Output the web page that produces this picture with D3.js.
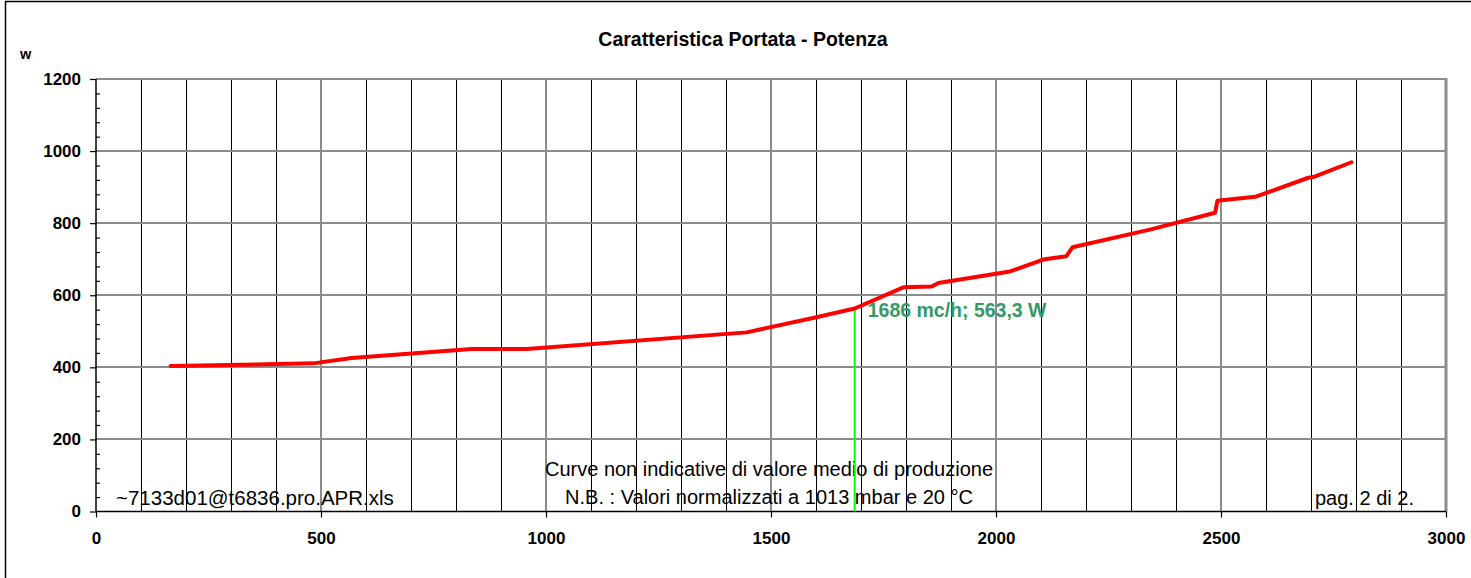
<!DOCTYPE html>
<html>
<head>
<meta charset="utf-8">
<script src="https://cdn.jsdelivr.net/npm/d3@7/dist/d3.min.js"></script>
<style>
	body { margin: 0; background: #ffffff; }
	svg { display: block; font-family: Arial, "Liberation Sans", sans-serif; }
</style>
</head>
<body>
<div id="chart"></div>
<script>

// portata (mc/h) and potenza (W)
var portata = [166, 483, 568, 835, 957, 1446, 1601, 1686, 1794, 1857, 1872, 2031, 2105, 2156, 2170, 2342, 2487, 2492, 2576, 2694, 2705, 2790];
var potenza = [404, 411, 426, 451, 451, 497, 539, 563.3, 622, 624, 634, 666, 699, 708, 733, 782, 829, 862, 873, 926, 928, 969];

var xTicks = [0, 500, 1000, 1500, 2000, 2500, 3000];
var yTicks = [0, 200, 400, 600, 800, 1000, 1200];

var opPoint = [1686, 563.3];
var opLabel = "1686 mc/h; 563,3 W";

var title = "Caratteristica Portata - Potenza";
var fileName = "~7133d01@t6836.pro.APR.xls";
var noteLines = ["Curve non indicative di valore medio di produzione", "N.B. : Valori normalizzati a 1013 mbar e 20 \u00B0C"];
var pageText = "pag. 2 di 2.";

var width = 1471, height = 578;
var plotL = 96, plotR = 1446, plotT = 79, plotB = 511.5;

var svg = d3.select("#chart").append("svg")
	.attr("width", width)
	.attr("height", height);

// outer frame (right and bottom fall outside the picture)
svg.append("rect")
	.attr("x", 5.5).attr("y", 1.5)
	.attr("width", width + 10).attr("height", height + 10)
	.attr("fill", "none")
	.attr("stroke", "#000000")
	.attr("stroke-width", 1.5);

var x = d3.scaleLinear().domain([0, 3000]).range([plotL, plotR]);
var y = d3.scaleLinear().domain([0, 1200]).range([plotB, plotT]);

// vertical grid, every 100, thin black minor, grey at 500
var grid = svg.append("g");
var vLines = d3.range(100, 3000, 100);
for (var i = 0; i < vLines.length; i++)
{
	var v = vLines[i];
	var major = v % 500 == 0;
	grid.append("line")
		.attr("x1", Math.round(x(v)) + (major ? 0 : 0.5))
		.attr("x2", Math.round(x(v)) + (major ? 0 : 0.5))
		.attr("y1", plotT)
		.attr("y2", plotB)
		.attr("stroke", major ? "#8c8c8c" : "#000000")
		.attr("stroke-width", major ? 2 : 1);
}

// horizontal grid
for (var i = 1; i < yTicks.length; i++)
{
	grid.append("line")
		.attr("x1", plotL)
		.attr("x2", plotR)
		.attr("y1", Math.round(y(yTicks[i])))
		.attr("y2", Math.round(y(yTicks[i])))
		.attr("stroke", "#8c8c8c")
		.attr("stroke-width", 2);
}

// right border of plot
grid.append("line")
	.attr("x1", plotR).attr("x2", plotR)
	.attr("y1", plotT - 1).attr("y2", plotB)
	.attr("stroke", "#8c8c8c")
	.attr("stroke-width", 3);

// y axis
var yAxis = d3.axisLeft(y)
	.tickValues(yTicks)
	.tickSize(6)
	.tickPadding(9)
	.tickFormat(d3.format("d"));

var gy = svg.append("g")
	.attr("transform", "translate(" + plotL + ",0)")
	.call(yAxis);

// minor ticks inside, every 40
var yMinor = d3.axisRight(y)
	.tickValues(d3.range(40, 1200, 40).filter(function(d) { return d % 200 != 0; }))
	.tickSize(4)
	.tickFormat("");

svg.append("g")
	.attr("transform", "translate(" + plotL + ",0)")
	.call(yMinor)
	.call(function(g) { g.select(".domain").remove(); });

// x axis
var xAxis = d3.axisBottom(x)
	.tickValues(xTicks)
	.tickSize(6)
	.tickPadding(14)
	.tickFormat(d3.format("d"));

var gx = svg.append("g")
	.attr("transform", "translate(0," + plotB + ")")
	.call(xAxis);

svg.selectAll(".domain").attr("stroke", "#000000").attr("stroke-width", 1.5);
svg.selectAll(".tick line").attr("stroke", "#000000").attr("stroke-width", 1.2);
svg.selectAll(".tick text")
	.attr("font-family", "Arial, 'Liberation Sans', sans-serif")
	.attr("font-size", 17)
	.attr("font-weight", "bold")
	.attr("fill", "#000000");

gy.select(".domain").attr("d", "M0," + plotT + "V" + plotB);
gx.select(".domain").attr("d", "M" + plotL + ",0H" + plotR);

// footer texts inside plot
svg.append("text")
	.attr("x", 116)
	.attr("y", 505)
	.attr("font-size", 20.5)
	.attr("fill", "#000000")
	.text(fileName);

var note = svg.append("text")
	.attr("text-anchor", "middle")
	.attr("font-size", 20)
	.attr("fill", "#000000");

for (var i = 0; i < noteLines.length; i++)
{
	note.append("tspan")
		.attr("x", 769)
		.attr("y", 476 + i * 28)
		.text(noteLines[i]);
}

svg.append("text")
	.attr("x", 1315)
	.attr("y", 505)
	.attr("font-size", 20)
	.attr("fill", "#000000")
	.text(pageText);

// operating point marker
svg.append("line")
	.attr("x1", x(opPoint[0]))
	.attr("x2", x(opPoint[0]))
	.attr("y1", y(opPoint[1]))
	.attr("y2", plotB)
	.attr("stroke", "#00ff00")
	.attr("stroke-width", 2);

// curve
var points = [];
for (var i = 0; i < portata.length; i++)
	points.push([portata[i], potenza[i]]);

var line = d3.line()
	.x(function(d) { return x(d[0]); })
	.y(function(d) { return y(d[1]); });

svg.append("path")
	.datum(points)
	.attr("d", line)
	.attr("fill", "none")
	.attr("stroke", "#ff0000")
	.attr("stroke-width", 4)
	.attr("stroke-linejoin", "round")
	.attr("stroke-linecap", "round");

svg.append("text")
	.attr("x", x(opPoint[0]) + 13)
	.attr("y", y(opPoint[1]) + 9)
	.attr("font-size", 19.5)
	.attr("font-weight", "bold")
	.attr("fill", "#339966")
	.text(opLabel);

// title and unit
svg.append("text")
	.attr("x", 743)
	.attr("y", 46)
	.attr("text-anchor", "middle")
	.attr("font-size", 19.5)
	.attr("font-weight", "bold")
	.attr("fill", "#000000")
	.text(title);

svg.append("text")
	.attr("x", 20)
	.attr("y", 59)
	.attr("font-size", 14.5)
	.attr("font-weight", "bold")
	.attr("fill", "#000000")
	.text("w");

</script>
</body>
</html>
